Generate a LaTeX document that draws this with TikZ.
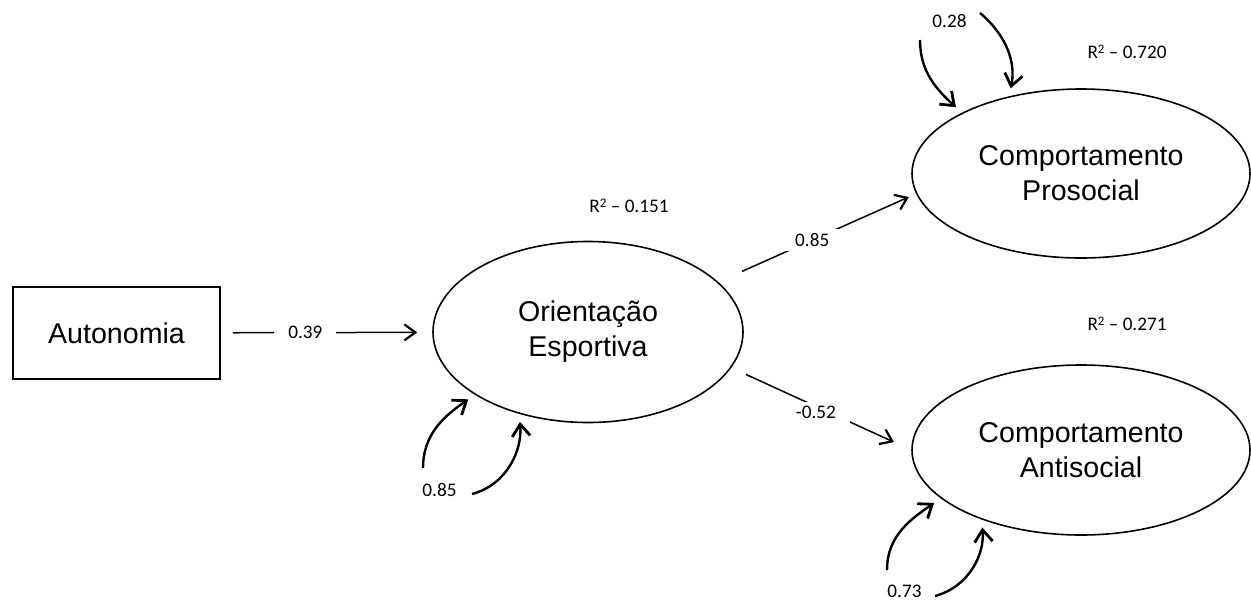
\documentclass[tikz,border=0pt]{standalone}
\usepackage{fontspec}
\setmainfont{Liberation Sans}
\newfontfamily\lblfont{Carlito}
\usetikzlibrary{shapes.geometric,arrows.meta}
\newcommand{\rsqr}{R\raisebox{0.55ex}{\fontsize{6.5}{7}\selectfont 2}}

\tikzset{
    latent/.style={draw, ellipse, line width=0.8pt, inner sep=0pt, align=center,
        font=\fontsize{14.3}{17.5}\selectfont},
    observed/.style={draw, rectangle, line width=0.8pt, inner sep=0pt,
        minimum width=103.5pt, minimum height=46pt, font=\fontsize{14.3}{17.5}\selectfont},
    coef/.style={font=\lblfont\fontsize{9.6}{11}\selectfont, fill=white, inner xsep=7pt, inner ysep=2pt},
    rsq/.style={font=\lblfont\fontsize{9.6}{11}\selectfont, inner sep=0pt},
    path/.style={line width=0.75pt, -{Straight Barb[length=5.5pt,width=8pt,line width=1.1pt]}},
    resid/.style={line width=1.2pt, -{Straight Barb[length=6pt,width=9pt,line width=1.4pt]}, shorten >=4pt},
}

\begin{document}
\begin{tikzpicture}[x=0.5pt, y=0.5pt]
        \useasboundingbox (0,0) rectangle (1251,602);
        % variables
        \node[observed] (auto)   at (116.5, 269) {Autonomia};
        \node[latent, minimum width=155pt, minimum height=90.5pt] (orient) at (588, 270)   {Orientação\\Esportiva};
        \node[latent, minimum width=169pt, minimum height=84.5pt] (pro)    at (1081, 428.5) {Comportamento\\Prosocial};
        \node[latent, minimum width=169pt, minimum height=85pt]   (anti)   at (1081, 152)   {Comportamento\\Antisocial};
        % explained variance
        \node[rsq] (r1) at (629, 396.5) {\rsqr{} – 0.151};
        \node[rsq] (r2) at (1127, 550)  {\rsqr{} – 0.720};
        \node[rsq] (r3) at (1127, 278)  {\rsqr{} – 0.271};
        % residuals
        \node[rsq] (e1) at (439.5, 112)  {0.85};
        \node[rsq] (e2) at (949.5, 580.5) {0.28};
        \node[rsq] (e3) at (904.5, 11)   {0.73};
        \coordinate (e1l) at (423, 134);
        \coordinate (e1r) at (472, 108);
        \coordinate (e2l) at (920, 562);
        \coordinate (e2r) at (980, 589);
        \coordinate (e3l) at (887, 32);
        \coordinate (e3r) at (935, 6);
        % paths
        \draw[path, shorten <=6pt, shorten >=7.5pt] (auto) -- node[coef, pos=0.40] {0.39} (orient);
        \draw[path, shorten <=13pt, shorten >=4pt] (orient.21) -- node[coef, pos=0.475] {0.85} (pro.187);
        \draw[path, shorten <=8pt, shorten >=9.5pt] (orient.-14) -- node[coef, pos=0.47, yshift=-3pt] {-0.52} (anti.180);
        % error loops
        \draw[resid] (e1l) to[out=90, in=215] (orient.209);
        \draw[resid] (e1r) to[out=15, in=-85] (orient.230);
        \draw[resid] (e2l) to[out=-90, in=137] (pro.153);
        \draw[resid] (e2r) to[out=-40, in=78] (pro.133);
        \draw[resid] (e3l) to[out=90, in=215] (anti.199);
        \draw[resid] (e3r) to[out=15, in=-85] (anti.215);
\end{tikzpicture}
\end{document}
